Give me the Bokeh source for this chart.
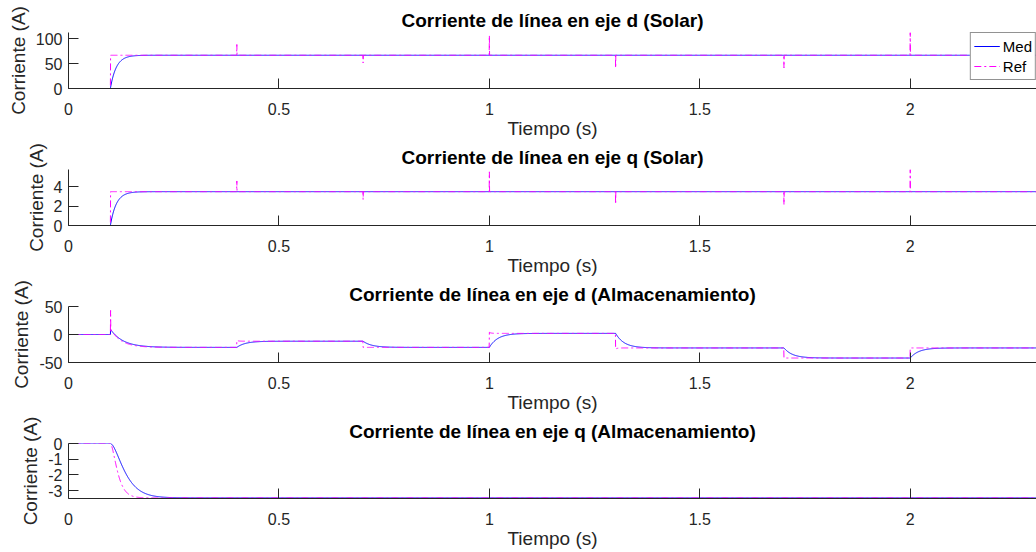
import numpy as np
from bokeh.plotting import figure
from bokeh.layouts import column
from bokeh.models import Range1d, FixedTicker, Legend, LegendItem
from bokeh.embed import file_html
from bokeh.resources import INLINE

# ---- time base -------------------------------------------------------------
t_end = 2.3
dt = 0.0005
x_ticks = [0, 0.5, 1, 1.5, 2]
x_tick_labels = ["0", "0.5", "1", "1.5", "2"]

# ---- solar converter currents ---------------------------------------------
t_on = 0.1
solar_events = [0.4, 0.7, 1.0, 1.3, 1.7, 2.0]
id_solar_level = 66.5
id_solar_spikes = [88, 51, 106, 41, 41, 112]
iq_solar_level = 3.48
iq_solar_spikes = [4.58, 2.66, 5.52, 2.2, 2.14, 5.76]
tau_solar = 0.014

# ---- storage converter currents -------------------------------------------
storage_events = [0.1, 0.4, 0.7, 1.0, 1.3, 1.7, 2.0]
id_storage_levels = [-23, -12, -23, 2, -24, -42, -24]
id_storage_ref_start = [10, -10.5, -23, 4, -26, -42, -24]
id_storage_ref_tau = [0.025, 0.004, 0.004, 0.004, 0.004, 0.004, 0.004]
id_storage_ref_spike = 43
id_storage_med_start = [9, None, None, None, None, None, None]
id_storage_med_tau = [0.03, 0.02, 0.02, 0.02, 0.02, 0.02, 0.02]
iq_storage_level = -3.46
tau_iq_ref = 0.01
tau_iq_med = 0.02

t = np.round(np.arange(0, t_end + dt / 2, dt), 6)


def idx(time):
    return int(round(time / dt))


def lag(u, tau):
    """Discrete first-order lag of signal u."""
    a = 1.0 - np.exp(-dt / tau)
    y = np.zeros_like(u)
    for i in range(1, len(u)):
        y[i] = y[i - 1] + a * (u[i] - y[i - 1])
    return y


def relax(times, targets, starts, taus):
    """Piecewise exponential settling towards each target after each event."""
    y = np.zeros_like(t)
    for k, t0 in enumerate(times):
        i0 = idx(t0)
        i1 = idx(times[k + 1]) if k + 1 < len(times) else len(t)
        s = starts[k] if starts[k] is not None else y[i0 - 1]
        seg = t[i0:i1] - t0
        y[i0:i1] = targets[k] + (s - targets[k]) * np.exp(-seg / taus[k])
    return y


def solar_pair(level, spikes):
    u = np.where(t >= t_on, level, 0.0)
    ref = u.copy()
    for e, s in zip(solar_events, spikes):
        ref[idx(e)] = s
    med = lag(u, tau_solar)
    return med, ref


id_sol_med, id_sol_ref = solar_pair(id_solar_level, id_solar_spikes)
iq_sol_med, iq_sol_ref = solar_pair(iq_solar_level, iq_solar_spikes)

id_sto_ref = relax(storage_events, id_storage_levels, id_storage_ref_start, id_storage_ref_tau)
id_sto_ref[idx(storage_events[0])] = id_storage_ref_spike
id_sto_med = relax(storage_events, id_storage_levels, id_storage_med_start, id_storage_med_tau)

u_q = np.where(t >= t_on, iq_storage_level, 0.0)
iq_sto_ref = lag(lag(u_q, tau_iq_ref), tau_iq_ref)
iq_sto_med = lag(lag(u_q, tau_iq_med), tau_iq_med)

FONT = "Liberation Sans"
AX = "#262626"
BLUE = "#0000FF"
MAGENTA = "#FF00FF"


def panel(title, y_lo, y_hi, y_ticks, y_labels, med, ref,
          top=27, frame_h=56, legend=False):
    p = figure(frame_width=968, frame_height=frame_h,
               x_range=Range1d(0, t_end), y_range=Range1d(y_lo, y_hi),
               output_backend="svg", toolbar_location=None,
               min_border_left=68, min_border_right=0,
               min_border_top=top, min_border_bottom=54,
               outline_line_color=None,
               background_fill_color="white", border_fill_color="white")
    p.title.text = title
    p.title.align = "center"
    p.title.text_font = FONT
    p.title.text_font_style = "bold"
    p.title.text_font_size = "19px"
    p.title.text_color = "#000000"
    p.title.standoff = 4
    p.grid.visible = False

    for ax in (p.xaxis[0], p.yaxis[0]):
        ax.axis_line_color = AX
        ax.axis_line_width = 1
        ax.major_tick_line_color = AX
        ax.major_tick_in = 10
        ax.major_tick_out = 0
        ax.minor_tick_line_color = None
        ax.major_label_text_font = FONT
        ax.major_label_text_font_size = "16px"
        ax.major_label_text_color = AX
        ax.axis_label_text_font = FONT
        ax.axis_label_text_font_size = "19px"
        ax.axis_label_text_font_style = "normal"
        ax.axis_label_text_color = AX

    p.xaxis.ticker = FixedTicker(ticks=x_ticks)
    p.xaxis.major_label_overrides = dict(zip(x_ticks, x_tick_labels))
    p.xaxis.axis_label = "Tiempo (s)"
    p.xaxis.major_label_standoff = 14
    p.xaxis.axis_label_standoff = 0

    p.yaxis.ticker = FixedTicker(ticks=y_ticks)
    p.yaxis.major_label_overrides = dict(zip(y_ticks, y_labels))
    p.yaxis.axis_label = "Corriente (A)"
    p.yaxis.major_label_standoff = 6
    p.yaxis.axis_label_standoff = 4

    r_med = p.line(t, med, line_color=BLUE, line_width=1)
    r_ref = p.line(t, ref, line_color=MAGENTA, line_width=1, line_dash="7 3 2 3")

    if legend:
        leg = Legend(items=[LegendItem(label="Med", renderers=[r_med]),
                            LegendItem(label="Ref", renderers=[r_ref])],
                     location="top_right", margin=0, padding=3, spacing=0,
                     glyph_width=26, glyph_height=20, label_height=20,
                     label_standoff=3,
                     label_text_font=FONT, label_text_font_size="15px",
                     label_text_color="#000000",
                     border_line_color=AX, border_line_width=1,
                     background_fill_color="white", background_fill_alpha=1)
        p.add_layout(leg)
    return p


p1 = panel("Corriente de línea en eje d (Solar)", 0, max(id_solar_spikes),
           [0, 50, 100], ["0", "50", "100"], id_sol_med, id_sol_ref,
           top=32, legend=True)
p2 = panel("Corriente de línea en eje q (Solar)", 0, max(iq_solar_spikes),
           [0, 2, 4], ["0", "2", "4"], iq_sol_med, iq_sol_ref)
p3 = panel("Corriente de línea en eje d (Almacenamiento)", -50, 50,
           [-50, 0, 50], ["-50", "0", "50"], id_sto_med, id_sto_ref)
p4 = panel("Corriente de línea en eje q (Almacenamiento)", -3.5, 0,
           [-3, -2, -1, 0], ["-3", "-2", "-1", "0"], iq_sto_med, iq_sto_ref,
           frame_h=55)

layout = column(p1, p2, p3, p4, spacing=0)

open("out.html", "w").write(file_html(layout, INLINE))
